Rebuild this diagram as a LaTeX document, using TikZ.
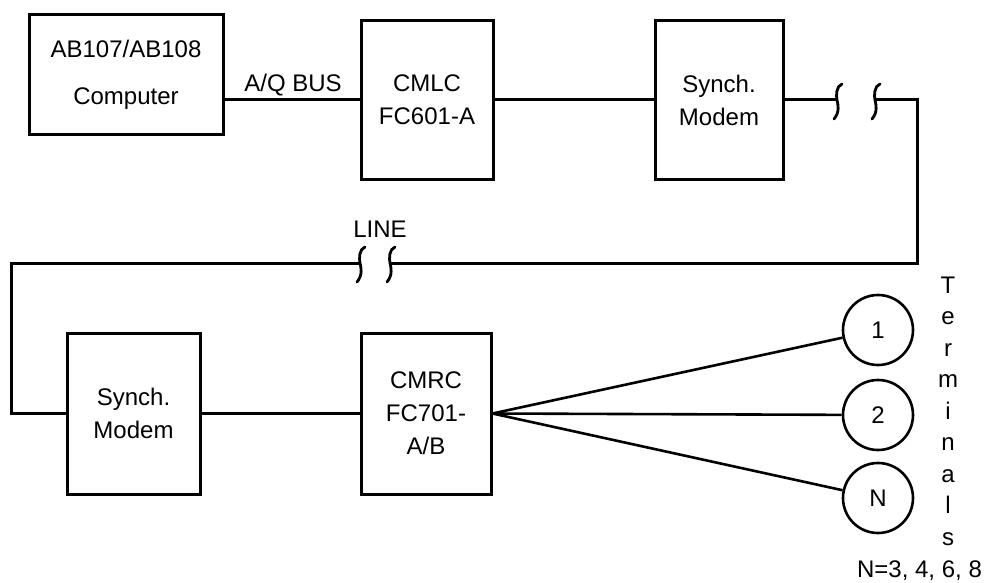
\documentclass[tikz,border=0pt]{standalone}
\usepackage{fontspec}
\setmainfont{Liberation Sans}
\begin{document}
\begin{tikzpicture}[x=1pt,y=-1pt,
  blk/.style={draw, line width=3pt, inner sep=0pt, align=center, font=\fontsize{24}{33}\selectfont},
  term/.style={draw, circle, line width=2.6pt, minimum size=70pt, inner sep=0pt, font=\fontsize{24}{28}\selectfont},
  wire/.style={line width=3pt},
  fanwire/.style={line width=2.6pt},
  lbl/.style={font=\fontsize{24}{28}\selectfont, inner sep=0pt},
  brk/.pic={\draw[line width=2.8pt, line cap=round] (5,-16) .. controls (-1,-14) and (-1,-4) .. (0,0) .. controls (1,4) and (3,12) .. (-3,19);}
]
\useasboundingbox (0,0) rectangle (985,583);

% blocks
\node[blk, minimum width=194pt, minimum height=120pt, font=\fontsize{24}{47}\selectfont] (comp) at (126,75) {AB107/AB108\\Computer};
\node[blk, minimum width=132pt, minimum height=158pt] (cmlc) at (427,100) {CMLC\\FC601-A};
\node[blk, minimum width=128pt, minimum height=158pt] (modA) at (719,100) {Synch.\\Modem};
\node[blk, minimum width=133pt, minimum height=161pt] (modB) at (133.5,413.5) {Synch.\\Modem};
\node[blk, minimum width=130pt, minimum height=161pt] (cmrc) at (426,413.5) {CMRC\\FC701-\\A/B};

% terminals
\node[term] (t1) at (878,330) {1};
\node[term] (t2) at (878,415) {2};
\node[term] (tN) at (878,498) {N};

% labels
\node[lbl, anchor=base] (aq) at (293,91.5) {A/Q BUS};
\node[lbl, anchor=base] (line) at (380,237.5) {LINE};
\node[inner sep=0pt, align=center, font=\fontsize{24}{31.5}\selectfont] (terms) at (948,411) {T\\e\\r\\m\\i\\n\\a\\l\\s};
\node[lbl, anchor=base] (nval) at (919.5,577) {N=3, 4, 6, 8};

% break points and corners
\coordinate (b1) at (837,100);
\coordinate (b2) at (875,100);
\coordinate (cNE) at (917,100);
\coordinate (cSE) at (917,263);
\coordinate (b4) at (390,263);
\coordinate (b3) at (360,263);
\coordinate (cNW) at (11,263);

% wires
\draw[wire] (comp.east |- cmlc.west) -- (cmlc.west);
\draw[wire] (cmlc.east) -- (modA.west);
\draw[wire] (modA.east) -- (b1);
\draw[wire] (b2) -- (cNE) -- (cSE) -- (b4);
\draw[wire] (b3) -- (cNW) |- (modB.west);
\draw[wire] (modB.east) -- (cmrc.west);
\pic at (b1) {brk};
\pic at (b2) {brk};
\pic at (b3) {brk};
\pic at (b4) {brk};

% fan-out
\coordinate (fan) at (cmrc.east);
\draw[fanwire] (fan) -- (t1);
\draw[fanwire] (fan) -- (t2);
\draw[fanwire] (fan) -- (tN);
\end{tikzpicture}
\end{document}
